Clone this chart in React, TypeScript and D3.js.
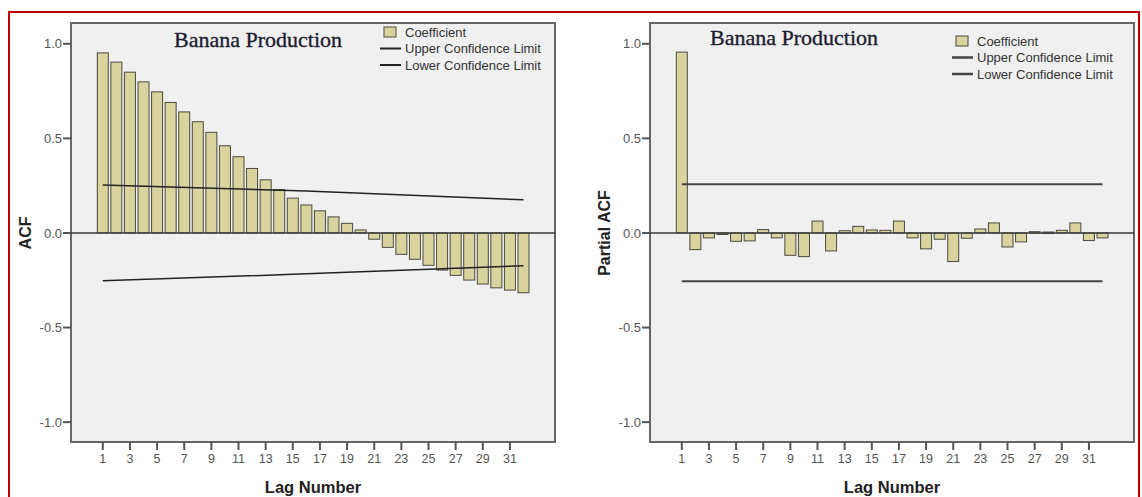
import React from 'react';
import * as d3 from 'd3';

// lags 1..32
const lags = d3.range(1, 33);

// ACF coefficients
const acfValues = [
  0.952, 0.903, 0.85, 0.799, 0.746, 0.69, 0.64, 0.588, 0.532, 0.461, 0.403, 0.341,
  0.281, 0.229, 0.184, 0.148, 0.117, 0.085, 0.051, 0.016, -0.033, -0.076, -0.113, -0.139,
  -0.171, -0.196, -0.224, -0.249, -0.27, -0.29, -0.302, -0.316,
];
// confidence limits (left panel) read at a few lags
const acfLimitLags = [1, 16, 32];
const acfUpper = [0.254, 0.222, 0.175];
const acfLower = [-0.253, -0.216, -0.173];

// Partial ACF coefficients
const pacfValues = [
  0.956, -0.088, -0.026, -0.008, -0.044, -0.042, 0.018, -0.026, -0.118, -0.125, 0.063, -0.095,
  0.012, 0.035, 0.016, 0.014, 0.063, -0.026, -0.084, -0.033, -0.151, -0.028, 0.021, 0.053,
  -0.074, -0.047, 0.007, 0.005, 0.014, 0.053, -0.04, -0.026,
];
const pacfLimitLags = [1, 32];
const pacfUpper = [0.258, 0.258];
const pacfLower = [-0.255, -0.255];

const yTicks = [1.0, 0.5, 0.0, -0.5, -1.0];
const xTickLags = lags.filter(d => d % 2 === 1);

const title = 'Banana Production';
const legendLabels = ['Coefficient', 'Upper Confidence Limit', 'Lower Confidence Limit'];

const SANS = '"Liberation Sans", Arial, sans-serif';
const SERIF = '"Liberation Serif", "Times New Roman", serif';
const BAR_FILL = '#d9d49d';

const W = 484;
const TOP = 23;
const BOTTOM = 442;

type PanelProps = {
  left: number;
  values: number[];
  limitLags: number[];
  upper: number[];
  lower: number[];
  yLabel: string;
  titleX: number;
  titleY: number;
  legendX: number;
  legendY: number;
  upperWidth: number;
  lowerWidth: number;
  limitColor: string;
};

const Panel = (p: PanelProps) => {
  const x = d3.scaleLinear().domain([1, 32]).range([p.left + 31.8, p.left + 452.5]);
  const y = d3.scaleLinear().domain([-1.105, 1.11]).range([BOTTOM, TOP]);
  const barW = 11;
  const limitLine = d3.line<[number, number]>().x(d => x(d[0])).y(d => y(d[1]));
  const upperPts = p.limitLags.map((l, i) => [l, p.upper[i]] as [number, number]);
  const lowerPts = p.limitLags.map((l, i) => [l, p.lower[i]] as [number, number]);

  return (
    <g>
      <rect x={p.left} y={TOP} width={W} height={BOTTOM - TOP} fill="#f0f0f0" stroke="#666" strokeWidth={2} />

      {/* bars */}
      {p.values.map((v, i) => {
        const lag = lags[i];
        const y0 = y(0);
        const y1 = y(v);
        return (
          <rect
            key={lag}
            x={x(lag) - barW / 2}
            y={Math.min(y0, y1)}
            width={barW}
            height={Math.max(1.5, Math.abs(y1 - y0))}
            fill={BAR_FILL}
            stroke="#4a4a40"
            strokeWidth={1}
          />
        );
      })}

      {/* zero reference */}
      <line x1={p.left} x2={p.left + W} y1={y(0)} y2={y(0)} stroke="#3a3a3a" strokeWidth={1.5} />

      {/* confidence limits */}
      <path d={limitLine(upperPts) || ''} fill="none" stroke={p.limitColor} strokeWidth={p.upperWidth} />
      <path d={limitLine(lowerPts) || ''} fill="none" stroke={p.limitColor} strokeWidth={p.lowerWidth} />

      {/* y axis */}
      {yTicks.map(t => (
        <g key={t} transform={`translate(${p.left},${y(t)})`}>
          <line x1={-8} x2={0} stroke="#555" strokeWidth={2} />
          <text x={-9} dy="0.35em" textAnchor="end" fontFamily={SANS} fontSize={13} fill="#555">
            {t.toFixed(1)}
          </text>
        </g>
      ))}
      <text
        transform={`translate(${p.left - 46},${y(0)}) rotate(-90)`}
        textAnchor="middle"
        dy="0.35em"
        fontFamily={SANS}
        fontWeight="bold"
        fontSize={16}
        fill="#222"
      >
        {p.yLabel}
      </text>

      {/* x axis */}
      {xTickLags.map(l => (
        <g key={l} transform={`translate(${x(l)},${BOTTOM})`}>
          <line y1={0} y2={8} stroke="#555" strokeWidth={2} />
          <text y={21} textAnchor="middle" fontFamily={SANS} fontSize={12.5} fill="#555">
            {l}
          </text>
        </g>
      ))}
      <text x={p.left + W / 2} y={493} textAnchor="middle" fontFamily={SANS} fontWeight="bold" fontSize={16.5} fill="#222">
        Lag Number
      </text>

      {/* title */}
      <text x={p.titleX} y={p.titleY} textAnchor="middle" fontFamily={SERIF} fontSize={22} fill="#1c1c30" stroke="#1c1c30" strokeWidth={0.35}>
        {title}
      </text>

      {/* legend */}
      <g transform={`translate(${p.legendX},${p.legendY})`} fontFamily={SANS} fontSize={13} fill="#333">
        <rect x={4} y={-5} width={12} height={10} fill={BAR_FILL} stroke="#4a4a40" strokeWidth={1} />
        <text x={25} dy="0.35em">{legendLabels[0]}</text>
        <line x1={0} x2={21} y1={16.5} y2={16.5} stroke={p.limitColor} strokeWidth={p.upperWidth + 0.5} />
        <text x={25} y={16.5} dy="0.35em">{legendLabels[1]}</text>
        <line x1={0} x2={21} y1={33} y2={33} stroke={p.limitColor} strokeWidth={p.lowerWidth + 0.5} />
        <text x={25} y={33} dy="0.35em">{legendLabels[2]}</text>
      </g>
    </g>
  );
};

export default function App() {
  return (
    <div style={{ position: 'absolute', left: 0, top: 0 }}>
      <svg width={1142} height={497} style={{ display: 'block', background: '#fff' }}>
        <rect x={9} y={12} width={1130} height={520} fill="none" stroke="#c00000" strokeWidth={2} />
        <Panel
          left={71}
          values={acfValues}
          limitLags={acfLimitLags}
          upper={acfUpper}
          lower={acfLower}
          yLabel="ACF"
          titleX={258}
          titleY={47}
          legendX={380}
          legendY={32}
          upperWidth={1.5}
          lowerWidth={1.5}
          limitColor="#222"
        />
        <Panel
          left={650}
          values={pacfValues}
          limitLags={pacfLimitLags}
          upper={pacfUpper}
          lower={pacfLower}
          yLabel="Partial ACF"
          titleX={794}
          titleY={45}
          legendX={952}
          legendY={41}
          upperWidth={2}
          lowerWidth={2}
          limitColor="#444"
        />
      </svg>
    </div>
  );
}
